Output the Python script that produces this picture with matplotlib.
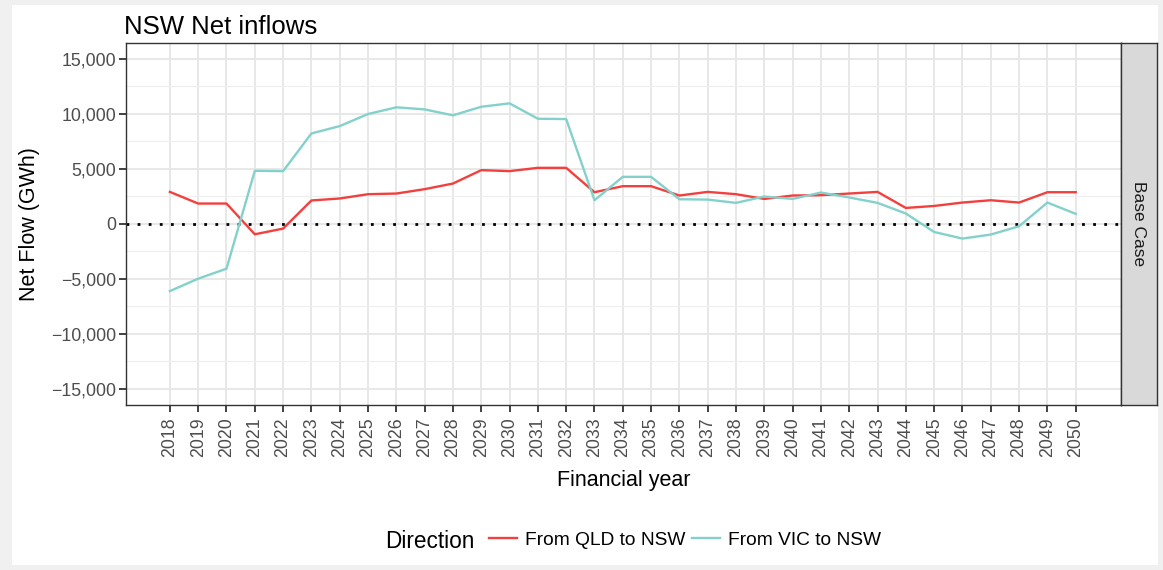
import matplotlib.pyplot as plt
from matplotlib.patches import Rectangle
from matplotlib.ticker import FuncFormatter, MultipleLocator
import numpy as np

plt.rcParams['font.family'] = ['Liberation Sans', 'DejaVu Sans']

# data
years = list(range(2018, 2051))
qld_to_nsw = [2900, 1840, 1840, -960, -440, 2120, 2300, 2690, 2750, 3150,
              3660, 4880, 4790, 5090, 5090, 2870, 3420, 3420, 2570, 2900,
              2690, 2260, 2570, 2600, 2750, 2900, 1440, 1620, 1930, 2140,
              1930, 2870, 2870]
vic_to_nsw = [-6130, -5000, -4090, 4820, 4790, 8220, 8890, 9990, 10600, 10410,
              9870, 10650, 10960, 9560, 9530, 2140, 4270, 4270, 2230, 2200,
              1900, 2480, 2260, 2840, 2390, 1900, 930, -750, -1350, -985,
              -230, 1930, 900]
series_names = ['From QLD to NSW', 'From VIC to NSW']
panel_label = 'Base Case'

W, H = 1163, 570
fig = plt.figure(figsize=(W / 100, H / 100), dpi=100)
fig.patch.set_facecolor('#F0F0F0')
fig.patches.append(Rectangle((12 / W, 5 / H), (1158 - 12) / W, (565 - 5) / H,
                             transform=fig.transFigure, facecolor='white',
                             edgecolor='none', zorder=-5))

left, right, top, bottom = 126, 1121, 42.5, 405
ax = fig.add_axes([left / W, 1 - bottom / H, (right - left) / W, (bottom - top) / H])
ax.set_facecolor('white')

red = '#F2403F'
teal = '#84D1CB'

ax.axhline(0, color='black', linestyle=(0, (1, 3)), linewidth=2, zorder=2)
ax.plot(years, qld_to_nsw, color=red, linewidth=1.7, zorder=3, label=series_names[0])
ax.plot(years, vic_to_nsw, color=teal, linewidth=1.7, zorder=3, label=series_names[1])

ax.set_xlim(2016.45, 2051.6)
ax.set_ylim(-16500, 16500)
ax.set_xticks(years)
ax.set_xticklabels([str(y) for y in years], rotation=90)
ax.yaxis.set_major_locator(MultipleLocator(5000))
ax.yaxis.set_minor_locator(MultipleLocator(2500))
ax.yaxis.set_major_formatter(FuncFormatter(lambda v, p: f'{int(v):,}'.replace('-', '\u2212')))

ax.grid(which='major', color='#E6E6E6', linewidth=1.3, zorder=0)
ax.grid(which='minor', axis='y', color='#EEEEEE', linewidth=0.8, zorder=0)
ax.set_axisbelow(True)

for s in ax.spines.values():
    s.set_color('#333333')
    s.set_linewidth(1.0)
ax.tick_params(which='major', length=5, width=1.3, color='#333333',
               labelsize=12.8, labelcolor='#4D4D4D', pad=2)
ax.tick_params(axis='x', pad=4)
ax.tick_params(which='minor', length=0)

ax.set_ylabel('Net Flow (GWh)', fontsize=15.5, labelpad=8)
ax.set_xlabel('Financial year', fontsize=15.5, labelpad=9)
ax.set_title('NSW Net inflows', fontsize=18.5, loc='left', x=-0.002, pad=6)

# facet strip on the right
sax = fig.add_axes([right / W, 1 - bottom / H, (1157 - right) / W, (bottom - top) / H])
sax.set_facecolor('#D9D9D9')
sax.set_xticks([])
sax.set_yticks([])
for s in sax.spines.values():
    s.set_color('#333333')
    s.set_linewidth(1.0)
sax.text(0.5, 0.5, panel_label, rotation=-90, ha='center', va='center',
         fontsize=12.5, color='#1A1A1A', transform=sax.transAxes)

# legend along the bottom
fig.text(385 / W, 1 - 541 / H, 'Direction', fontsize=16.3, va='center', ha='left')
handles, labels = ax.get_legend_handles_labels()
fig.legend(handles, labels, loc='center left', bbox_to_anchor=(481 / W, 1 - 540 / H),
           ncol=2, frameon=False, fontsize=13.8, handlelength=1.5,
           handletextpad=0.42, columnspacing=0.3, borderaxespad=0)

fig.savefig('out.png', dpi=100)
